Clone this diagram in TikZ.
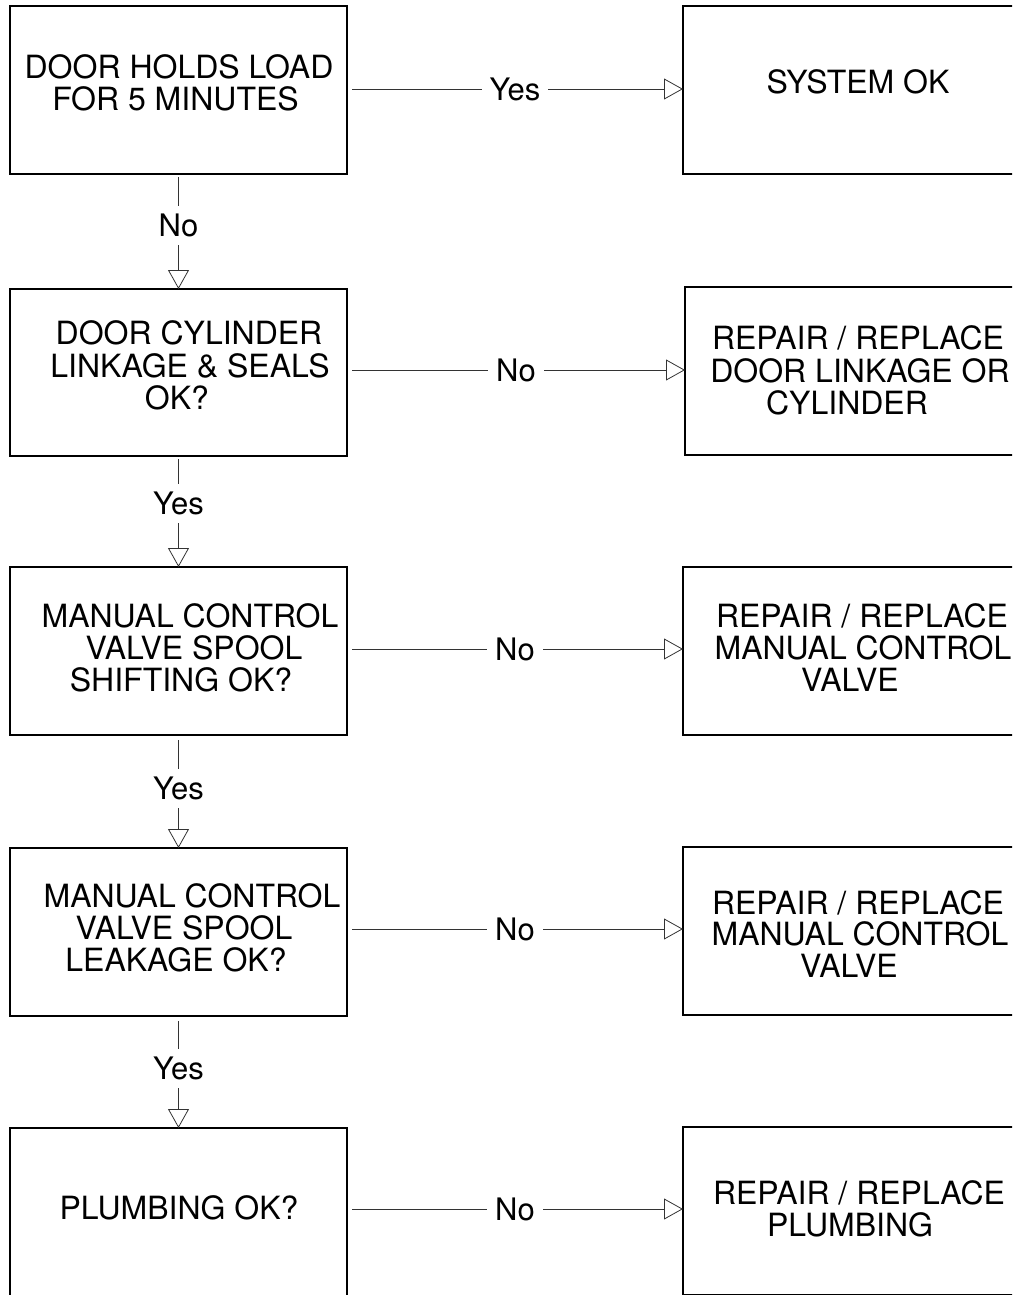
\documentclass[tikz,border=0pt]{standalone}
\usepackage{fontspec}
\setmainfont{TeX Gyre Heros}
\usetikzlibrary{arrows.meta}
\begin{document}
\begin{tikzpicture}[x=1pt,y=-1pt,
  box/.style={draw,line width=1.2pt,rectangle,inner sep=0pt,outer sep=0pt},
  lbox/.style={box,minimum width=337pt,minimum height=168pt},
  rbox/.style={box,minimum width=347pt,minimum height=168pt},
  txt/.style={anchor=base,inner sep=0pt,font=\fontsize{32}{33}\selectfont},
  conn/.style={line width=0.8pt,draw=black!80,-{Triangle[open,length=19pt,width=21pt,line width=0.8pt]}},
  lab/.style={fill=white,inner sep=8pt,text=black,font=\fontsize{31}{32}\selectfont}
]
\clip (0,0) rectangle (1012,1295);
\fill[white] (0,0) rectangle (1012,1295);

% left boxes
\node[lbox] (L1) at (178.5,90) {};
\node[lbox,minimum height=167pt] (L2) at (178.5,372.5) {};
\node[lbox] (L3) at (178.5,651) {};
\node[lbox] (L4) at (178.5,932) {};
\node[lbox] (L5) at (178.5,1212) {};

% right boxes
\node[rbox] (R1) at (856.5,90) {};
\node[rbox,minimum width=345pt] (R2) at (857.5,371) {};
\node[rbox] (R3) at (856.5,651) {};
\node[rbox] (R4) at (856.5,931) {};
\node[rbox] (R5) at (856.5,1211) {};

% texts
\node[txt] (t1a) at (179,79) {DOOR HOLDS LOAD};
\node[txt] (t1b) at (175.5,111) {FOR 5 MINUTES};
\node[txt] (r1a) at (858,94) {SYSTEM OK};

\node[txt] (t2a) at (189,344) {DOOR CYLINDER};
\node[txt] (t2b) at (190,377) {LINKAGE \& SEALS};
\node[txt] (t2c) at (177,409) {OK?};
\node[txt] (r2a) at (858,349) {REPAIR / REPLACE};
\node[txt] (r2b) at (860,382) {DOOR LINKAGE OR};
\node[txt] (r2c) at (847,414) {CYLINDER};

\node[txt] (t3a) at (190,627) {MANUAL CONTROL};
\node[txt] (t3b) at (194,659) {VALVE SPOOL};
\node[txt] (t3c) at (181,691) {SHIFTING OK?};
\node[txt] (r3a) at (862,627) {REPAIR / REPLACE};
\node[txt] (r3b) at (863,659) {MANUAL CONTROL};
\node[txt] (r3c) at (850,691) {VALVE};

\node[txt] (t4a) at (192,907) {MANUAL CONTROL};
\node[txt] (t4b) at (184,939) {VALVE SPOOL};
\node[txt] (t4c) at (176,971) {LEAKAGE OK?};
\node[txt] (r4a) at (858,914) {REPAIR / REPLACE};
\node[txt] (r4b) at (860,945) {MANUAL CONTROL};
\node[txt] (r4c) at (849,977) {VALVE};

\node[txt] (t5a) at (179,1219) {PLUMBING OK?};
\node[txt] (r5a) at (859,1204) {REPAIR / REPLACE};
\node[txt] (r5b) at (850,1236) {PLUMBING};

% horizontal connectors
\draw[conn,shorten <=5pt] ([yshift=1pt]L1.east) -- ([yshift=1pt]L1.east -| R1.west) node[lab,midway] (y1) {Yes};
\draw[conn,shorten <=5pt] ([yshift=2.5pt]L2.east) -- ([yshift=2.5pt]L2.east -| R2.west) node[lab,midway] (n2) {No};
\draw[conn,shorten <=5pt] ([yshift=2pt]L3.east) -- ([yshift=2pt]L3.east -| R3.west) node[lab,midway] (n3) {No};
\draw[conn,shorten <=5pt] ([yshift=3pt]L4.east) -- ([yshift=3pt]L4.east -| R4.west) node[lab,midway] (n4) {No};
\draw[conn,shorten <=5pt] ([yshift=3pt]L5.east) -- ([yshift=3pt]L5.east -| R5.west) node[lab,midway] (n5) {No};

% vertical connectors
\draw[conn,shorten <=3pt] (L1.south) -- (L2.north) node[lab,pos=0.45] (v1) {No};
\draw[conn,shorten <=3pt] (L2.south) -- (L3.north) node[lab,pos=0.43] (v2) {Yes};
\draw[conn,shorten <=5pt] (L3.south) -- (L4.north) node[lab,pos=0.47] (v3) {Yes};
\draw[conn,shorten <=5pt] (L4.south) -- (L5.north) node[lab,pos=0.47] (v4) {Yes};
\end{tikzpicture}
\end{document}
